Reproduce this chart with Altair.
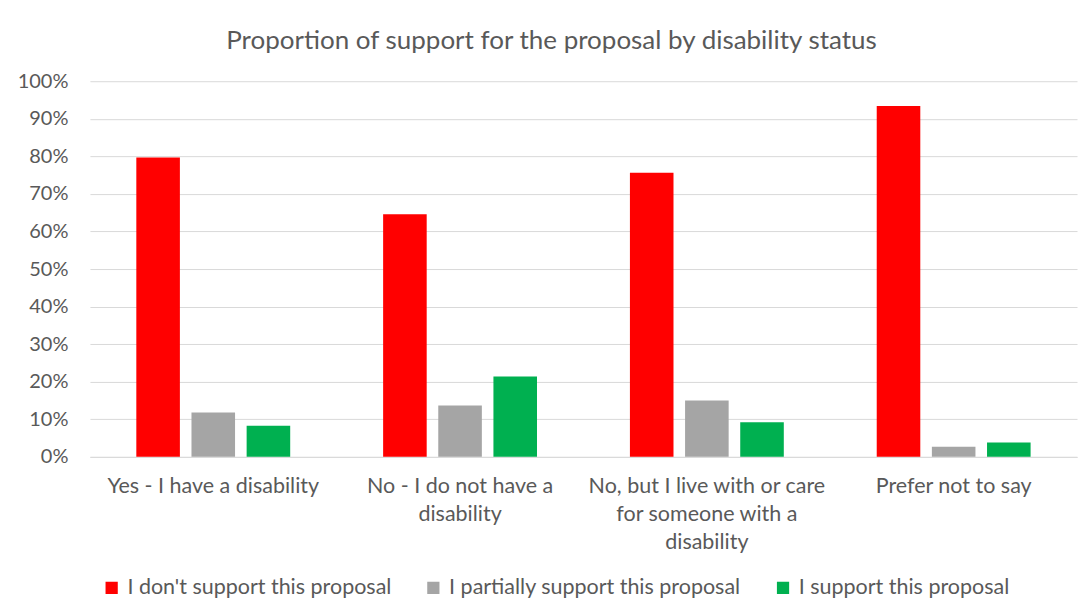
import altair as alt
import pandas as pd

categories = [
    "Yes - I have a disability",
    "No - I do not have a disability",
    "No, but I live with or care for someone with a disability",
    "Prefer not to say",
]
series = [
    "I don't support this proposal",
    "I partially support this proposal",
    "I support this proposal",
]
dont_support = [0.797, 0.646, 0.756, 0.934]
partially = [0.118, 0.137, 0.150, 0.027]
support = [0.083, 0.214, 0.092, 0.038]
colors = ["#FF0000", "#A5A5A5", "#00B050"]

rows = []
for i, c in enumerate(categories):
    for s, vals in zip(series, [dont_support, partially, support]):
        rows.append({"category": c, "series": s, "value": vals[i]})
df = pd.DataFrame(rows)

FONT = "Lato"
TXT = "#595959"

label_expr = (
    "datum.value == 'No - I do not have a disability' ? ['No - I do not have a', 'disability'] : "
    "datum.value == 'No, but I live with or care for someone with a disability' ? "
    "['No, but I live with or care', 'for someone with a', 'disability'] : datum.value"
)

chart = alt.Chart(df).mark_bar().encode(
    x=alt.X("category:N", sort=categories, title=None,
            scale=alt.Scale(paddingInner=0.3765, paddingOuter=0.188),
            axis=alt.Axis(labelAngle=0, labelExpr=label_expr, ticks=False,
                          domainColor="#D9D9D9", labelPadding=19, labelLimit=0,
                          labelFontSize=21.5, labelColor=TXT, labelFont=FONT,
                          labelLineHeight=28, labelBaseline="top")),
    xOffset=alt.XOffset("series:N", sort=series,
                        scale=alt.Scale(paddingInner=0.21, paddingOuter=0)),
    y=alt.Y("value:Q", title=None,
            scale=alt.Scale(domain=[0, 1]),
            axis=alt.Axis(format=".0%", values=[i / 10 for i in range(11)],
                          ticks=False, domain=False, gridColor="#D9D9D9",
                          labelPadding=22, labelFontSize=20, labelColor=TXT,
                          labelFont=FONT)),
    color=alt.Color("series:N", sort=series,
                    scale=alt.Scale(domain=series, range=colors),
                    legend=alt.Legend(title=None, orient="none", direction="horizontal",
                                      legendX=11, legendY=496, labelLimit=0,
                                      symbolType="square", symbolSize=150,
                                      symbolStrokeWidth=0,
                                      labelFontSize=21.5, labelColor=TXT, labelFont=FONT,
                                      columnPadding=31, labelOffset=5)),
).properties(
    width=988,
    height=376,
    title=alt.TitleParams("Proportion of support for the proposal by disability status",
                          fontSize=26, font=FONT, color=TXT, fontWeight="normal",
                          offset=17, dx=-32),
    autosize=alt.AutoSizeParams(type="none"),
    padding={"left": 82, "top": 73, "right": 2, "bottom": 150},
).configure_view(stroke=None)

chart.save("out.html", embed_options={"renderer": "svg", "actions": False})
